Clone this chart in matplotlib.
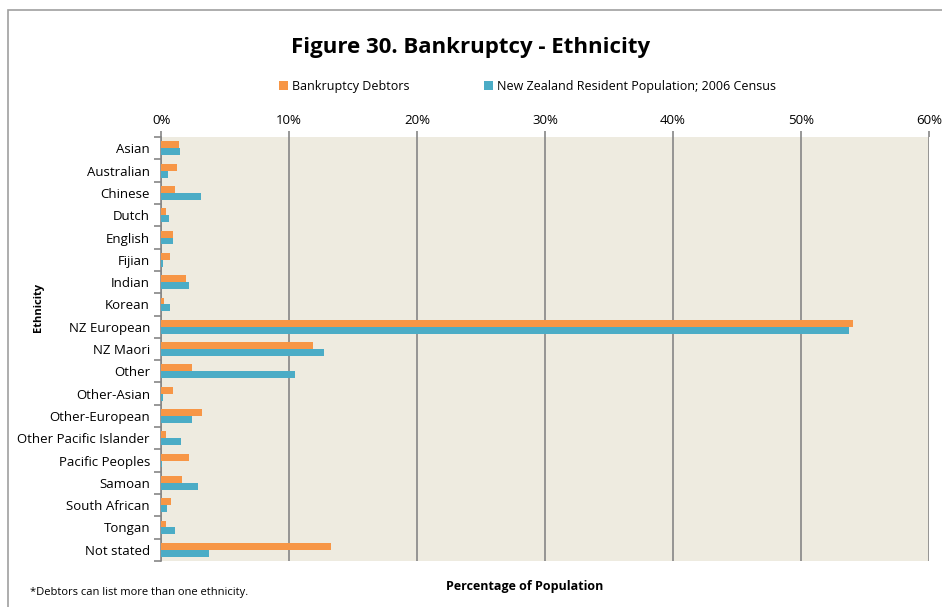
import numpy as np
import matplotlib.pyplot as plt
from matplotlib.ticker import FixedLocator, PercentFormatter
from matplotlib.patches import Rectangle

plt.rcParams['font.family'] = ['Open Sans', 'DejaVu Sans']

categories = ["Asian", "Australian", "Chinese", "Dutch", "English", "Fijian", "Indian",
              "Korean", "NZ European", "NZ Maori", "Other", "Other-Asian", "Other-European",
              "Other Pacific Islander", "Pacific Peoples", "Samoan", "South African",
              "Tongan", "Not stated"]
debtors = [1.4, 1.25, 1.1, 0.4, 0.95, 0.68, 1.95, 0.26, 54.1, 11.9, 2.4, 0.9, 3.2,
           0.4, 2.2, 1.67, 0.8, 0.4, 13.25]
census = [1.5, 0.55, 3.1, 0.6, 0.95, 0.16, 2.15, 0.68, 53.75, 12.7, 10.47, 0.13, 2.4,
          1.56, 0.05, 2.9, 0.44, 1.09, 3.75]

fig = plt.figure(figsize=(9.42, 6.07), dpi=100)
ax = fig.add_axes([0.171, 0.076, 0.815, 0.698])
ax.set_facecolor('#EEEBE0')

y = np.arange(len(categories))
h = 0.31
ax.barh(y - h / 2, debtors, height=h, color='#F79646', label='Bankruptcy Debtors', zorder=3)
ax.barh(y + h / 2, census, height=h, color='#4BACC6',
        label='New Zealand Resident Population; 2006 Census', zorder=3)

ax.set_xlim(0, 60)
ax.set_ylim(len(categories) - 0.5, -0.5)
ax.xaxis.tick_top()
ax.set_xticks(np.arange(0, 61, 10))
ax.xaxis.set_major_formatter(PercentFormatter(decimals=0))
ax.tick_params(axis='x', length=4, color='#868686', width=1.2, labelsize=9.5, pad=3)
ax.grid(axis='x', color='#868686', linewidth=1.2, zorder=1)

ax.set_yticks(y)
ax.set_yticklabels(categories, fontsize=9.5)
ax.tick_params(axis='y', which='major', length=0, pad=8)
ax.yaxis.set_minor_locator(FixedLocator(np.arange(-0.5, len(categories), 1)))
ax.tick_params(axis='y', which='minor', length=5, color='#868686', width=1.2)

for s in ['top', 'right', 'bottom']:
    ax.spines[s].set_visible(False)
ax.spines['left'].set_color('#868686')
ax.spines['left'].set_linewidth(1.2)

ax.set_ylabel('Ethnicity', fontsize=8, fontweight='bold')
ax.yaxis.set_label_coords(-0.153, 0.597)

fig.text(0.5, 0.922, 'Figure 30. Bankruptcy - Ethnicity', ha='center', va='center',
         fontsize=16, fontweight='bold')
fig.legend(loc='center', bbox_to_anchor=(0.56, 0.858), ncol=2, frameon=False,
           fontsize=9, handlelength=0.7, handleheight=0.7, handletextpad=0.3,
           columnspacing=6)
fig.text(0.557, 0.033, 'Percentage of Population', ha='center', va='center',
         fontsize=9, fontweight='bold')
fig.text(0.032, 0.024, '*Debtors can list more than one ethnicity.', ha='left',
         va='center', fontsize=8)

fig.patches.append(Rectangle((0.0085, -0.05), 1.2, 1.034, transform=fig.transFigure,
                             fill=False, edgecolor='#A0A0A0', linewidth=1.2))

plt.savefig('out.png', dpi=100)
